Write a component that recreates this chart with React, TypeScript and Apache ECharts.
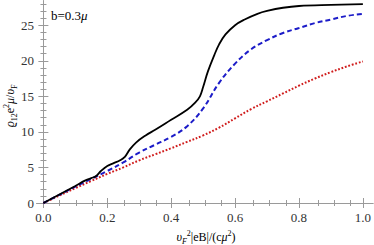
import React, { useEffect, useRef } from "react";
import * as echarts from "echarts";

const xMajor = [0, 0.2, 0.4, 0.6, 0.8, 1.0];
const xTickLabels = ["0.0", "0.2", "0.4", "0.6", "0.8", "1.0"];
const xMinor = [0.05, 0.1, 0.15, 0.25, 0.3, 0.35, 0.45, 0.5, 0.55, 0.65, 0.7, 0.75, 0.85, 0.9, 0.95];
const yMajor = [0, 5, 10, 15, 20, 25];
const yTickLabels = ["0", "5", "10", "15", "20", "25"];
const yMinor = [1, 2, 3, 4, 6, 7, 8, 9, 11, 12, 13, 14, 16, 17, 18, 19, 21, 22, 23, 24, 26, 27, 28];

const blackX = [0, 0.05, 0.1, 0.13, 0.15, 0.165, 0.18, 0.2, 0.22, 0.24, 0.255, 0.27, 0.29, 0.32, 0.35, 0.4, 0.45, 0.475, 0.49, 0.5, 0.515, 0.535, 0.55, 0.57, 0.6, 0.63, 0.67, 0.7, 0.75, 0.8, 0.9, 1.0];
const blackY = [0, 1.2, 2.4, 3.15, 3.5, 3.8, 4.5, 5.2, 5.6, 6.0, 6.5, 7.5, 8.5, 9.5, 10.3, 11.7, 13.1, 14.1, 15.0, 16.3, 18.5, 20.8, 22.3, 23.7, 25.0, 25.8, 26.6, 27.0, 27.45, 27.7, 27.85, 27.95];

const blueX = [0, 0.05, 0.1, 0.15, 0.2, 0.25, 0.3, 0.35, 0.4, 0.45, 0.5, 0.55, 0.6, 0.65, 0.7, 0.75, 0.8, 0.85, 0.9, 0.95, 1.0];
const blueY = [0, 1.15, 2.3, 3.4, 4.5, 5.7, 7.1, 8.2, 9.3, 10.8, 13.3, 16.9, 19.6, 21.6, 22.9, 23.9, 24.6, 25.3, 25.8, 26.3, 26.6];

const redX = [0, 0.05, 0.1, 0.15, 0.2, 0.25, 0.3, 0.35, 0.4, 0.45, 0.5, 0.55, 0.6, 0.65, 0.7, 0.75, 0.8, 0.85, 0.9, 0.95, 1.0];
const redY = [0, 1.05, 2.1, 3.1, 4.1, 5.0, 6.0, 6.85, 7.7, 8.6, 9.5, 10.6, 11.9, 13.2, 14.3, 15.4, 16.5, 17.5, 18.4, 19.2, 19.9];

const FONT = "serif";
const FRAME = "#9a9a9a";

function zip(xs: number[], ys: number[]) {
  return xs.map((x, i) => [x, ys[i]]);
}

export default function App() {
  const ref = useRef<HTMLDivElement>(null);
  useEffect(() => {
    if (!ref.current) return;
    const chart = echarts.init(ref.current, undefined, { renderer: "svg" });
    const gridRect = { left: 37, top: 1, width: 336, height: 205 };
    const lineStyle = { color: FRAME, width: 1 };
    const mkX = (grid: number, pos: string, ticks: number[], len: number, labels: boolean) => ({
      gridIndex: grid,
      type: "value",
      position: pos,
      min: -0.02,
      max: 1.02,
      axisLine: { show: true, lineStyle },
      axisTick: { show: true, inside: true, length: len, customValues: ticks, lineStyle },
      axisLabel: labels
        ? {
            show: true,
            customValues: ticks,
            formatter: (v: number) => xTickLabels[xMajor.findIndex((m) => Math.abs(m - v) < 1e-6)] ?? "",
            fontFamily: FONT,
            fontSize: 13,
            color: "#333",
            margin: 5,
          }
        : { show: false },
      splitLine: { show: false },
    });
    const mkY = (grid: number, pos: string, ticks: number[], len: number, labels: boolean) => ({
      gridIndex: grid,
      type: "value",
      position: pos,
      min: -0.42,
      max: 28.4,
      axisLine: { show: true, lineStyle },
      axisTick: { show: true, inside: true, length: len, customValues: ticks, lineStyle },
      axisLabel: labels
        ? {
            show: true,
            customValues: ticks,
            formatter: (v: number) => yTickLabels[yMajor.findIndex((m) => Math.abs(m - v) < 1e-6)] ?? "",
            fontFamily: FONT,
            fontSize: 13,
            color: "#333",
            margin: 3,
          }
        : { show: false },
      splitLine: { show: false },
    });
    const baseRich = { fontFamily: FONT, fontSize: 12, color: "#333", lineHeight: 16 };
    chart.setOption({
      animation: false,
      textStyle: { fontFamily: FONT },
      grid: [gridRect, gridRect],
      xAxis: [
        mkX(0, "bottom", xMajor, 5, true),
        mkX(0, "top", xMajor, 5, false),
        mkX(1, "bottom", xMinor, 3, false),
        mkX(1, "top", xMinor, 3, false),
      ],
      yAxis: [
        mkY(0, "left", yMajor, 5, true),
        mkY(0, "right", yMajor, 5, false),
        mkY(1, "left", yMinor, 3, false),
        mkY(1, "right", yMinor, 3, false),
      ],
      series: [
        {
          type: "line",
          name: "red",
          xAxisIndex: 0,
          yAxisIndex: 0,
          data: zip(redX, redY),
          showSymbol: false,
          smooth: 0.4,
          lineStyle: { color: "#d01c1c", width: 2, type: [1.8, 1.8] },
        },
        {
          type: "line",
          name: "blue",
          xAxisIndex: 0,
          yAxisIndex: 0,
          data: zip(blueX, blueY),
          showSymbol: false,
          smooth: 0.4,
          lineStyle: { color: "#1c1cc8", width: 2, type: [5, 3] },
        },
        {
          type: "line",
          name: "black",
          xAxisIndex: 0,
          yAxisIndex: 0,
          data: zip(blackX, blackY),
          showSymbol: false,
          smooth: 0.4,
          lineStyle: { color: "#000", width: 1.8 },
        },
      ],
      graphic: [
        {
          type: "text",
          x: 51,
          y: 15,
          style: {
            text: "{n|b=0.3}{i|μ}",
            verticalAlign: "middle",
            rich: {
              n: { fontFamily: FONT, fontSize: 13, color: "#222" },
              i: { fontFamily: FONT, fontSize: 13, color: "#222", fontStyle: "italic" },
            },
          },
        },
        {
          type: "text",
          x: 10,
          y: 106,
          rotation: Math.PI / 2,
          style: {
            text: "{i|ϱ}{sb|12}{n|e}{sp|2}{i|μ}{n|/}{i|υ}{sb|F}",
            align: "center",
            verticalAlign: "middle",
            rich: {
              n: { ...baseRich },
              i: { ...baseRich, fontStyle: "italic" },
              sb: { ...baseRich, fontSize: 8, lineHeight: 8, verticalAlign: "bottom" },
              sp: { ...baseRich, fontSize: 8, lineHeight: 8, verticalAlign: "top" },
            },
          },
        },
        {
          type: "text",
          x: 206,
          y: 237,
          style: {
            text: "{i|υ}{ss|F}{n|2}{n2||eB|/(c}{i|μ}{sp|2}{n2|)}",
            align: "center",
            verticalAlign: "middle",
            rich: {
              n: { ...baseRich, fontSize: 8, lineHeight: 8, verticalAlign: "top" },
              n2: { ...baseRich },
              i: { ...baseRich, fontStyle: "italic" },
              ss: { ...baseRich, fontSize: 8, lineHeight: 8, verticalAlign: "bottom", fontStyle: "italic" },
              sp: { ...baseRich, fontSize: 8, lineHeight: 8, verticalAlign: "top" },
            },
          },
        },
      ],
    });
    return () => chart.dispose();
  }, []);
  return <div ref={ref} style={{ width: 374, height: 245, position: "absolute", left: 0, top: 0 }} />;
}
